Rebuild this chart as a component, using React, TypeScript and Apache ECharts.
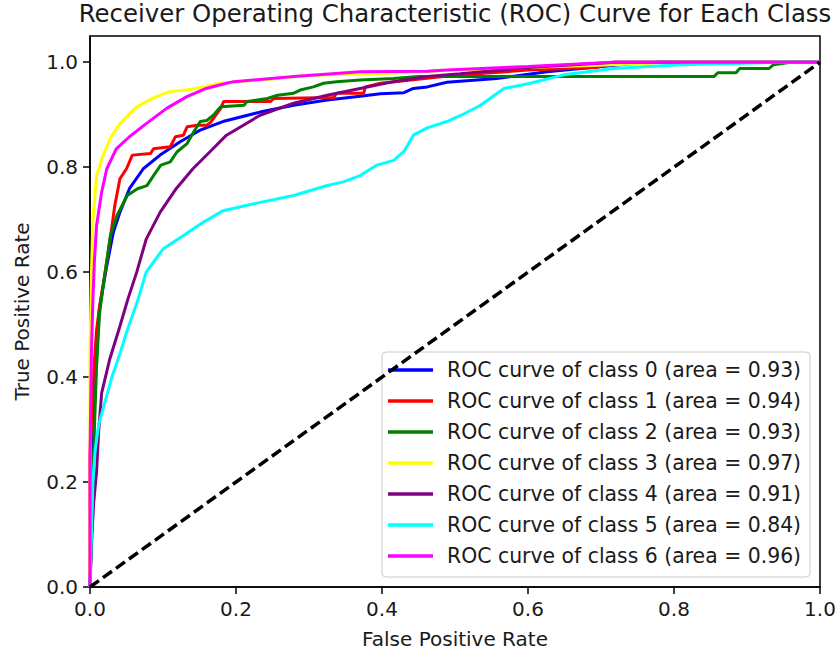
import React, { useEffect, useRef } from "react";
import * as echarts from "echarts";

const FONT = "DejaVu Sans";
const TEXT = "#1a1a1a";

const titleText = "Receiver Operating Characteristic (ROC) Curve for Each Class";
const xAxisName = "False Positive Rate";
const yAxisName = "True Positive Rate";
const tickValues = [0, 0.2, 0.4, 0.6, 0.8, 1.0];

const classNames = [
  "ROC curve of class 0 (area = 0.93)",
  "ROC curve of class 1 (area = 0.94)",
  "ROC curve of class 2 (area = 0.93)",
  "ROC curve of class 3 (area = 0.97)",
  "ROC curve of class 4 (area = 0.91)",
  "ROC curve of class 5 (area = 0.84)",
  "ROC curve of class 6 (area = 0.96)",
];
const classColors = ["#0000ff", "#ff0000", "#008000", "#ffff00", "#800080", "#00ffff", "#ff00ff"];

const class0: number[][] = [
  [0, 0], [0.002, 0.12], [0.004, 0.25], [0.007, 0.38], [0.01, 0.47], [0.013, 0.533],
  [0.023, 0.612], [0.032, 0.676], [0.041, 0.714], [0.054, 0.759], [0.073, 0.797],
  [0.096, 0.823], [0.123, 0.848], [0.15, 0.87], [0.182, 0.887], [0.233, 0.905],
  [0.279, 0.918], [0.325, 0.928], [0.37, 0.935], [0.398, 0.94], [0.43, 0.942],
  [0.443, 0.95], [0.462, 0.953], [0.489, 0.962], [0.557, 0.969], [0.626, 0.982],
  [0.694, 0.991], [0.74, 0.997], [0.78, 1.0], [1, 1],
];
const class1: number[][] = [
  [0, 0], [0, 0.25], [0.003, 0.35], [0.006, 0.43], [0.009, 0.49], [0.013, 0.533],
  [0.02, 0.593], [0.027, 0.657], [0.034, 0.727], [0.041, 0.778], [0.05, 0.797],
  [0.058, 0.823], [0.083, 0.826], [0.087, 0.835], [0.11, 0.839], [0.117, 0.858],
  [0.128, 0.861], [0.133, 0.877], [0.147, 0.88], [0.16, 0.88], [0.165, 0.885],
  [0.179, 0.912], [0.183, 0.925], [0.247, 0.925], [0.252, 0.931], [0.334, 0.933],
  [0.338, 0.941], [0.375, 0.941], [0.377, 0.953], [0.398, 0.96], [0.5, 0.975],
  [0.6, 0.985], [0.694, 0.99], [0.717, 1.0], [1, 1],
];
const class2: number[][] = [
  [0, 0], [0.003, 0.15], [0.006, 0.3], [0.009, 0.42], [0.013, 0.52], [0.02, 0.593],
  [0.028, 0.67], [0.037, 0.708], [0.051, 0.746], [0.065, 0.759], [0.078, 0.765],
  [0.087, 0.784], [0.097, 0.804], [0.11, 0.81], [0.119, 0.829], [0.133, 0.845],
  [0.142, 0.867], [0.151, 0.887], [0.16, 0.889], [0.169, 0.899], [0.179, 0.915],
  [0.211, 0.918], [0.215, 0.925], [0.243, 0.931], [0.257, 0.937], [0.279, 0.941],
  [0.288, 0.947], [0.306, 0.953], [0.32, 0.96], [0.338, 0.963], [0.37, 0.966],
  [0.416, 0.969], [0.45, 0.973], [0.855, 0.973], [0.86, 0.98], [0.885, 0.98],
  [0.89, 0.988], [0.93, 0.988], [0.936, 0.995], [0.96, 1.0], [1, 1],
];
const class3: number[][] = [
  [0, 0], [0, 0.45], [0.002, 0.6], [0.004, 0.7], [0.009, 0.784], [0.018, 0.823],
  [0.029, 0.858], [0.041, 0.883], [0.064, 0.915], [0.087, 0.932], [0.109, 0.944],
  [0.132, 0.947], [0.155, 0.953], [0.179, 0.96], [0.25, 0.968], [0.3, 0.975],
  [0.398, 0.978], [0.5, 0.985], [0.6, 0.99], [0.717, 0.995], [0.8, 1.0], [1, 1],
];
const class4: number[][] = [
  [0, 0], [0.002, 0.08], [0.005, 0.16], [0.009, 0.22], [0.012, 0.3], [0.016, 0.37],
  [0.027, 0.434], [0.041, 0.497], [0.052, 0.549], [0.064, 0.6], [0.077, 0.663],
  [0.096, 0.714], [0.118, 0.759], [0.141, 0.797], [0.164, 0.829], [0.187, 0.861],
  [0.233, 0.899], [0.279, 0.922], [0.325, 0.937], [0.37, 0.95], [0.416, 0.963],
  [0.462, 0.973], [0.507, 0.978], [0.6, 0.99], [0.72, 1.0], [1, 1],
];
const class5: number[][] = [
  [0, 0], [0.002, 0.1], [0.004, 0.2], [0.007, 0.26], [0.012, 0.31], [0.02, 0.35],
  [0.03, 0.4], [0.04, 0.44], [0.05, 0.485], [0.066, 0.549], [0.077, 0.6], [0.1, 0.644],
  [0.128, 0.67], [0.155, 0.695], [0.182, 0.717], [0.233, 0.733], [0.279, 0.746],
  [0.325, 0.765], [0.347, 0.772], [0.37, 0.784], [0.393, 0.804], [0.416, 0.813],
  [0.43, 0.83], [0.443, 0.861], [0.462, 0.875], [0.489, 0.887], [0.51, 0.9],
  [0.535, 0.918], [0.567, 0.95], [0.603, 0.96], [0.649, 0.976], [0.717, 0.988],
  [0.808, 0.995], [0.945, 1.0], [1, 1],
];
const class6: number[][] = [
  [0, 0], [0, 0.25], [0.002, 0.45], [0.004, 0.55], [0.006, 0.62], [0.009, 0.689],
  [0.016, 0.753], [0.023, 0.797], [0.036, 0.835], [0.054, 0.858], [0.077, 0.883],
  [0.105, 0.912], [0.132, 0.934], [0.159, 0.95], [0.187, 0.96], [0.197, 0.963],
  [0.279, 0.973], [0.37, 0.982], [0.462, 0.983], [0.489, 0.985], [0.6, 0.992],
  [0.717, 1.0], [1, 1],
];
const chanceLine: number[][] = [[0, 0], [1, 1]];

const classData = [class0, class1, class2, class3, class4, class5, class6];

export default function App() {
  const ref = useRef<HTMLDivElement>(null);
  useEffect(() => {
    if (!ref.current) return;
    const chart = echarts.init(ref.current, undefined, { renderer: "svg" });
    const axisCommon = {
      axisLine: { show: true, lineStyle: { color: "#000", width: 1.5 } },
      axisTick: { show: true, length: 7, lineStyle: { color: "#000", width: 1.5 } },
      splitLine: { show: false },
      nameLocation: "middle" as const,
      nameTextStyle: { fontFamily: FONT, fontSize: 20, color: TEXT },
    };
    const series: any[] = classData.map((d, i) => ({
      name: classNames[i],
      type: "line",
      data: d,
      symbol: "none",
      showSymbol: false,
      lineStyle: { color: classColors[i], width: 3 },
      itemStyle: { color: classColors[i] },
      emphasis: { disabled: true },
      z: 2 + i,
    }));
    series.push({
      name: "chance",
      type: "line",
      data: chanceLine,
      symbol: "none",
      lineStyle: { color: "#000", width: 3.5, type: [11, 5] },
      emphasis: { disabled: true },
      z: 20,
    });
    chart.setOption({
      animation: false,
      backgroundColor: "#fff",
      graphic: [
        {
          type: "text",
          x: 455,
          y: 1,
          style: {
            text: titleText,
            fontFamily: FONT,
            fontSize: 24.4,
            fill: TEXT,
            textAlign: "center",
            textVerticalAlign: "top",
          },
        },
      ],
      grid: {
        left: 90,
        right: 20,
        top: 36,
        bottom: 72,
        show: true,
        borderColor: "#000",
        borderWidth: 1.5,
        backgroundColor: "transparent",
      },
      xAxis: {
        type: "value",
        min: 0,
        max: 1,
        interval: 0.2,
        name: xAxisName,
        nameGap: 42,
        ...axisCommon,
        axisLabel: {
          fontFamily: FONT,
          fontSize: 20,
          color: TEXT,
          margin: 12,
          formatter: (v: number) => v.toFixed(1),
        },
      },
      yAxis: {
        type: "value",
        min: 0,
        max: 1.05,
        interval: 0.2,
        name: yAxisName,
        nameGap: 58,
        ...axisCommon,
        axisTick: {
          show: true,
          length: 7,
          lineStyle: { color: "#000", width: 1.5 },
          customValues: tickValues,
        },
        axisLabel: {
          fontFamily: FONT,
          fontSize: 20,
          color: TEXT,
          margin: 12,
          customValues: tickValues,
          formatter: (v: number) => v.toFixed(1),
        },
      },
      legend: {
        data: classNames,
        orient: "vertical",
        left: 382,
        top: 352,
        padding: [7, 9, 10, 6],
        itemGap: 9,
        itemWidth: 45,
        itemHeight: 3.5,
        icon: "rect",
        backgroundColor: "rgba(255,255,255,0.8)",
        borderColor: "#cccccc",
        borderWidth: 1,
        borderRadius: 4,
        selectedMode: false,
        textStyle: {
          fontFamily: FONT,
          fontSize: 20.4,
          color: TEXT,
          lineHeight: 22,
          padding: [0, 0, 0, 9],
        },
      },
      series,
    });
    return () => chart.dispose();
  }, []);
  return (
    <div
      ref={ref}
      style={{ position: "fixed", left: 0, top: 0, width: 840, height: 659, background: "#fff" }}
    />
  );
}
